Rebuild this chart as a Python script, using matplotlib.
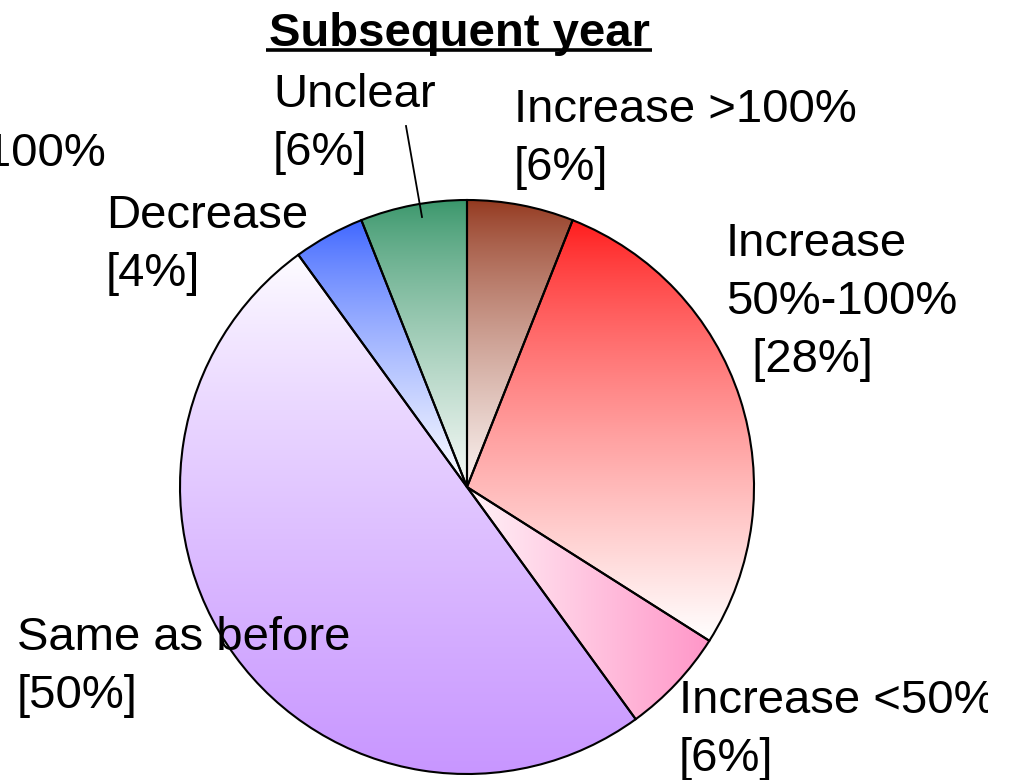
import numpy as np
import matplotlib
matplotlib.use("Agg")
import matplotlib.pyplot as plt
from matplotlib.colors import to_rgb
from matplotlib.transforms import Bbox, TransformedBbox

# data
categories = ["Increase >100%", "Increase\n50%-100%", "Increase <50%",
              "Same as before", "Decrease", "Unclear"]
shares = [6, 28, 6, 50, 4, 6]
title = "Subsequent year"

# gradient for each slice: (start colour, end colour, direction)
grads = [("#93381E", "#FBF4F2", "v"),
         ("#FF1A1A", "#FFFFFF", "v"),
         ("#FFF2F7", "#FF96C8", "h"),
         ("#FFFFFF", "#C896FF", "v"),
         ("#3C64FF", "#FFFFFF", "v"),
         ("#38966A", "#F8FAF8", "v")]

# label placement in pixels: left x, first baseline y, pad for pct line
label_pos = [(514, 122, ""), (726, 256, "  "), (679, 713, ""),
             (17, 650, ""), (106, 228, ""), (273, 107, "")]

W, H = 1012, 780
LINE = 58
plt.rcParams['font.family'] = ['Liberation Sans', 'DejaVu Sans']

fig = plt.figure(figsize=(W / 100, H / 100), dpi=100)
ax = fig.add_axes([0, 0, 1, 1])


def py(y):
    # pixel row -> data y
    return H - y


cx, cy, r = 467, py(487), 287
wedges, _ = ax.pie(shares, startangle=90, counterclock=False,
                   center=(cx, cy), radius=r,
                   wedgeprops=dict(facecolor="none", edgecolor="black",
                                   linewidth=1.5, zorder=3))

for w, (c0, c1, d) in zip(wedges, grads):
    ext = w.get_path().get_extents()
    t = np.linspace(0, 1, 256)
    if d == "v":
        t = t ** 0.8
    a, b = np.array(to_rgb(c0)), np.array(to_rgb(c1))
    g = a[None, :] * (1 - t[:, None]) + b[None, :] * t[:, None]
    img = g[:, None, :] if d == "v" else g[None, :, :]
    im = ax.imshow(img, extent=(ext.x0, ext.x1, ext.y0, ext.y1),
                   origin="upper", aspect="auto", interpolation="bilinear",
                   zorder=1)
    im.set_clip_path(w)

ax.set_xlim(0, W)
ax.set_ylim(0, H)
ax.set_aspect("auto")
ax.axis("off")

fs = 34
for cat, v, (x, y, pad) in zip(categories, shares, label_pos):
    lines = cat.split("\n") + [pad + "[%d%%]" % v]
    for i, s in enumerate(lines):
        t = ax.text(x, py(y + i * LINE), s, fontsize=fs, ha="left",
                    va="baseline", zorder=4)
        if cat == "Increase <50%":
            t.set_clip_box(TransformedBbox(Bbox([[0, 0], [988, H]]),
                                           ax.transData))
            t.set_clip_on(True)

# label of the neighbouring chart, cut off at the left edge
ax.text(106, py(166), "Increase >100%", fontsize=fs, ha="right",
        va="baseline")

# leader line for "Unclear"
ax.plot([406, 422], [py(126), py(217)], color="black", lw=1.3, zorder=4)

# title, bold and underlined
ax.text(459, py(46), title, fontsize=fs, fontweight="bold", ha="center",
        va="baseline")
ax.plot([266, 652], [py(50), py(50)], color="black", lw=2.6,
        solid_capstyle="butt")

fig.savefig("out.png", dpi=100)
